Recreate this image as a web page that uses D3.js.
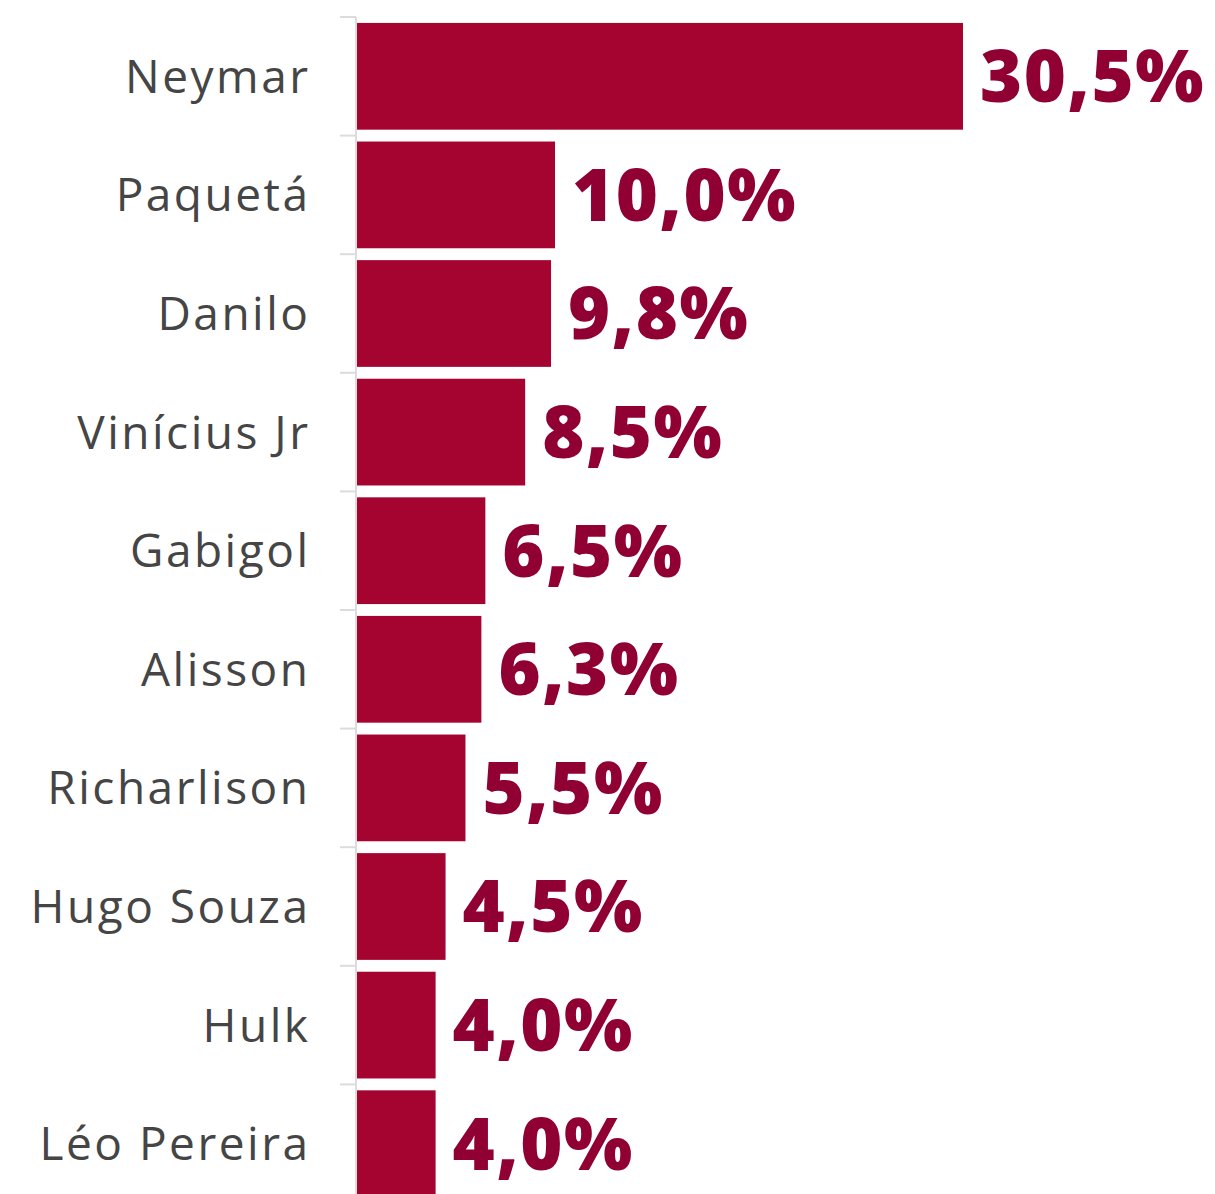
<!DOCTYPE html>
<html><head><meta charset="utf-8">
<script src="https://cdn.jsdelivr.net/npm/d3@7"></script>
<style>
html,body{margin:0;padding:0;background:#fff;}
</style></head>
<body>
<svg id="chart" width="1215" height="1194"></svg>
<script>
const players = ["Neymar","Paquetá","Danilo","Vinícius Jr","Gabigol","Alisson","Richarlison","Hugo Souza","Hulk","Léo Pereira"];
const shares = [30.5,10.0,9.8,8.5,6.5,6.3,5.5,4.5,4.0,4.0];
const valueLabels = ["30,5%","10,0%","9,8%","8,5%","6,5%","6,3%","5,5%","4,5%","4,0%","4,0%"];

const data = players.map((p,i)=>({player:p, value:shares[i], label:valueLabels[i]}));
const svg = d3.select("#chart");
const x0 = 356;
const x = d3.scaleLinear().domain([0,30.5]).range([x0, 963]);
const y = d3.scaleBand().domain(players).range([17, 1203]).paddingInner(0.1).paddingOuter(0.05);
const step = y.step();

// bars
svg.append("g").selectAll("rect").data(data).join("rect")
  .attr("x", x(0)+1)
  .attr("y", d=>y(d.player))
  .attr("width", d=>x(d.value)-x(0)-1)
  .attr("height", y.bandwidth())
  .attr("fill","#a50431");

// axis line and ticks at band boundaries
const g = svg.append("g");
g.append("line").attr("x1",x0).attr("x2",x0).attr("y1",17).attr("y2",1203)
  .attr("stroke","#dcdcdc").attr("stroke-width",2);
const bounds = d3.range(players.length+1).map(i=>17+i*step);
g.selectAll("line.tick").data(bounds).join("line").attr("class","tick")
  .attr("x1",340).attr("x2",x0).attr("y1",d=>d).attr("y2",d=>d)
  .attr("stroke","#dcdcdc").attr("stroke-width",2);

// category labels
svg.append("g").selectAll("text").data(data).join("text")
  .attr("x",310.5)
  .attr("y",d=>y(d.player)+y.bandwidth()/2)
  .attr("dy","0.36em")
  .attr("text-anchor","end")
  .attr("font-family","'Open Sans', sans-serif")
  .attr("font-size",46)
  .attr("letter-spacing","2.5px")
  .attr("fill","#454545")
  .text(d=>d.player);

// value labels
svg.append("g").selectAll("text").data(data).join("text")
  .attr("x",d=>x(d.value)+17)
  .attr("y",d=>y(d.player)+y.bandwidth()/2)
  .attr("dy","0.36em")
  .attr("font-family","'Open Sans', sans-serif")
  .attr("font-weight",800)
  .attr("font-size",72)
  .attr("letter-spacing","1.6px")
  .attr("fill","#900033")
  .text(d=>d.label);
</script>
</body></html>
